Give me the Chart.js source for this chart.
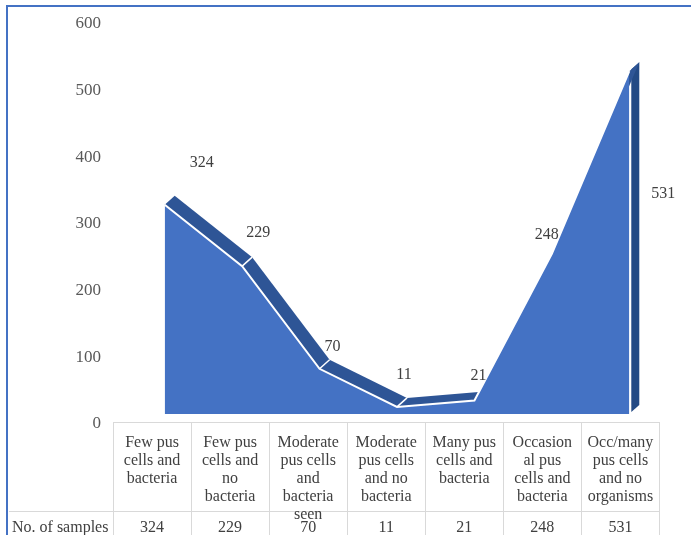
<!DOCTYPE html>
<html lang="en">
<head>
  <meta charset="UTF-8">
  <title>Urine microscopy findings</title>
  <script src="https://cdn.jsdelivr.net/npm/chart.js"></script>
  <style>
    body {
      margin: 0;
      background: #fff;
      font-family: "Liberation Serif", "Times New Roman", serif;
    }
    .frame {
      position: absolute;
      left: 6px;
      top: 5px;
      width: 720px;
      height: 600px;
      border-left: 2px solid #4472c4;
      border-top: 2px solid #4472c4;
    }
    #chart {
      position: absolute;
      left: 0;
      top: 0;
    }
    #dataTable {
      position: absolute;
      left: 9px;
      top: 422px;
      width: 651px;
      border-collapse: collapse;
      table-layout: fixed;
      color: #404040;
      font-size: 16px;
      line-height: 18px;
    }
    #dataTable td {
      padding: 0;
      border: 1px solid #d9d9d9;
      text-align: center;
      vertical-align: top;
    }
    #dataTable td.blank {
      border: none;
    }
    #dataTable .head {
      height: 78px;
      padding-top: 10px;
      overflow: visible;
      white-space: nowrap;
    }
    #dataTable td.rowTitle {
      border-left: none;
      text-align: left;
      padding-left: 3px;
      white-space: nowrap;
    }
    #dataTable .val {
      height: 24px;
      padding-top: 6px;
    }
  </style>
</head>
<body>
  <div class="frame"></div>
  <canvas id="chart" width="691" height="535"></canvas>
  <table id="dataTable"></table>

  <script>
    const categories = [
      ['Few pus', 'cells and', 'bacteria'],
      ['Few pus', 'cells and', 'no', 'bacteria'],
      ['Moderate', 'pus cells', 'and', 'bacteria', 'seen'],
      ['Moderate', 'pus cells', 'and no', 'bacteria'],
      ['Many pus', 'cells and', 'bacteria'],
      ['Occasion', 'al pus', 'cells and', 'bacteria'],
      ['Occ/many', 'pus cells', 'and no', 'organisms']
    ];
    const sampleCounts = [324, 229, 70, 11, 21, 248, 531];
    const seriesName = 'No. of samples';
    const yTicks = [0, 100, 200, 300, 400, 500, 600];

    // where Excel put each value label, relative to its point on the front face
    const labelOffsets = [[37, -42], [16, -33], [13, -22], [7, -32], [4, -25], [-5, -19], [34, 123]];

    // data table under the plot
    const table = document.getElementById('dataTable');
    let html = '<colgroup><col style="width:104px">' +
      categories.map(() => '<col>').join('') + '</colgroup>';
    html += '<tr><td class="blank"></td>' +
      categories.map(c => '<td><div class="head">' + c.join('<br>') + '</div></td>').join('') + '</tr>';
    html += '<tr><td class="rowTitle"><div class="val">' + seriesName + '</div></td>' +
      sampleCounts.map(v => '<td><div class="val">' + v + '</div></td>').join('') + '</tr>';
    table.innerHTML = html;

    // top strip and right wall that give the area its depth
    const depthPlugin = {
      id: 'depth3d',
      beforeDatasetsDraw(chart, args, opts) {
        const pts = chart.getDatasetMeta(0).data;
        const base = chart.scales.yData.getPixelForValue(0);
        const dx = opts.dx, dy = opts.dy;
        const ctx = chart.ctx;
        ctx.save();

        const last = pts[pts.length - 1];
        ctx.fillStyle = opts.sideColor;
        ctx.beginPath();
        ctx.moveTo(last.x + 2, last.y - 2);
        ctx.lineTo(last.x + dx, last.y + dy);
        ctx.lineTo(last.x + dx, base + dy);
        ctx.lineTo(last.x + 2, base - 2);
        ctx.closePath();
        ctx.fill();

        ctx.fillStyle = opts.topColor;
        for (let i = 0; i < pts.length - 1; i++) {
          const a = pts[i], b = pts[i + 1];
          ctx.beginPath();
          ctx.moveTo(a.x, a.y);
          ctx.lineTo(b.x, b.y);
          ctx.lineTo(b.x + dx, b.y + dy);
          ctx.lineTo(a.x + dx, a.y + dy);
          ctx.closePath();
          ctx.fill();
        }

        ctx.strokeStyle = '#fff';
        ctx.lineWidth = 1.5;
        for (let i = 1; i < pts.length - 1; i++) {
          ctx.beginPath();
          ctx.moveTo(pts[i].x, pts[i].y);
          ctx.lineTo(pts[i].x + dx, pts[i].y + dy);
          ctx.stroke();
        }
        ctx.restore();
      }
    };

    const valueLabels = {
      id: 'valueLabels',
      afterDatasetsDraw(chart) {
        const ctx = chart.ctx;
        const meta = chart.getDatasetMeta(0);
        const values = chart.data.datasets[0].data;
        ctx.save();
        ctx.font = '16px "Liberation Serif"';
        ctx.fillStyle = '#404040';
        ctx.textAlign = 'center';
        ctx.textBaseline = 'middle';
        meta.data.forEach((pt, i) => {
          const off = labelOffsets[i];
          ctx.fillText(values[i], pt.x + off[0], pt.y + off[1]);
        });
        ctx.restore();
      }
    };

    new Chart(document.getElementById('chart'), {
      type: 'line',
      data: {
        labels: categories,
        datasets: [{
          label: seriesName,
          data: sampleCounts,
          yAxisID: 'yData',
          fill: 'origin',
          backgroundColor: '#4472c4',
          borderColor: '#ffffff',
          borderWidth: 2,
          pointRadius: 0,
          tension: 0
        }]
      },
      options: {
        responsive: false,
        animation: false,
        devicePixelRatio: 1,
        layout: {
          padding: { left: 66, top: 24, right: 23, bottom: 111 }
        },
        scales: {
          x: {
            type: 'category',
            offset: true,
            display: false
          },
          y: {
            position: 'left',
            min: yTicks[0],
            max: yTicks[yTicks.length - 1],
            afterFit(scale) {
              // fixed axis box; the layout padding already leaves room for the end labels
              scale.width = 60;
              scale.paddingTop = 0;
              scale.paddingBottom = 0;
            },
            afterBuildTicks(scale) { scale.ticks = yTicks.map(v => ({ value: v })); },
            grid: { display: false },
            border: { display: false },
            ticks: {
              padding: 17,
              color: '#595959',
              font: { family: 'Liberation Serif', size: 17 }
            }
          },
          // front face of the 3D area sits slightly inside the axis range
          yData: {
            display: false,
            min: -15.5,
            max: 604
          }
        },
        plugins: {
          legend: { display: false },
          tooltip: { enabled: false },
          depth3d: { dx: 10, dy: -9, topColor: '#2e5596', sideColor: '#234a85' }
        }
      },
      plugins: [depthPlugin, valueLabels]
    });
  </script>
</body>
</html>
